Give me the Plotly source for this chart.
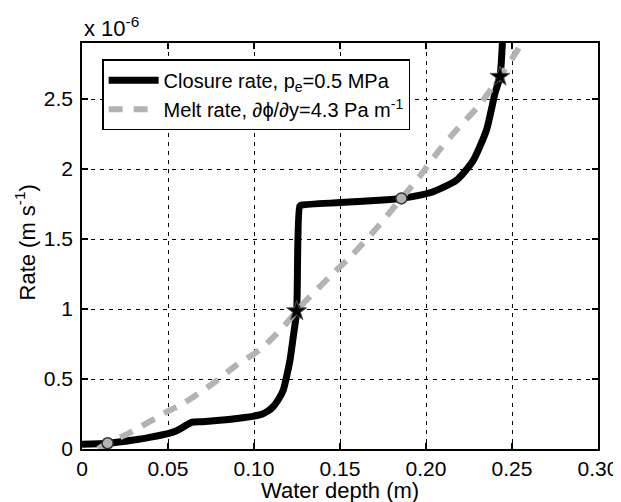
import plotly.graph_objects as go

# Data (rates in units of 1e-6 m/s)
closure_depth = [0.0, 0.0149, 0.03, 0.04, 0.05, 0.055, 0.06, 0.0637, 0.07, 0.08, 0.09, 0.1,
                 0.105, 0.108, 0.111, 0.114, 0.117, 0.119, 0.121, 0.1228, 0.1248,
                 0.1266, 0.128, 0.15, 0.1772, 0.1857, 0.2023, 0.2177, 0.2274,
                 0.2352, 0.2401, 0.243, 0.2448]
closure_rate = [0.034, 0.041, 0.064, 0.085, 0.11, 0.13, 0.165, 0.19, 0.195, 0.205, 0.218, 0.235,
                0.25, 0.27, 0.30, 0.35, 0.42, 0.52, 0.64, 0.80, 0.985,
                1.735, 1.743, 1.76, 1.78, 1.79, 1.83, 1.92, 2.06,
                2.28, 2.54, 2.66, 3.0]

melt_depth = [0.0093, 0.0149, 0.0279, 0.05, 0.0589, 0.0763, 0.0899, 0.1035, 0.118, 0.1248,
              0.1306, 0.1456, 0.1558, 0.1693, 0.1857, 0.1965, 0.2081, 0.2178, 0.2305,
              0.243, 0.2527, 0.2564]
melt_rate = [0.0, 0.041, 0.117, 0.27, 0.326, 0.47, 0.60, 0.71, 0.886, 0.985,
             1.064, 1.25, 1.37, 1.55, 1.79, 1.95, 2.14, 2.28, 2.45,
             2.66, 2.84, 2.92]

circle_depth = [0.0149, 0.1857]
circle_rate = [0.041, 1.79]
star_depth = [0.1248, 0.243]
star_rate = [0.985, 2.66]

x_ticks = [0, 0.05, 0.10, 0.15, 0.20, 0.25, 0.30]
x_ticklabels = ["0", "0.05", "0.10", "0.15", "0.20", "0.25", "0.30"]
y_ticks = [0, 0.5, 1, 1.5, 2, 2.5]
y_ticklabels = ["0", "0.5", "1", "1.5", "2", "2.5"]

FONT = "Liberation Sans, Arial, sans-serif"

fig = go.Figure()
fig.add_trace(go.Scatter(x=closure_depth, y=closure_rate, mode="lines",
                         line=dict(color="black", width=7, shape="spline", smoothing=0.6),
                         name="Closure rate, p<sub>e</sub>=0.5 MPa"))
fig.add_trace(go.Scatter(x=melt_depth, y=melt_rate, mode="lines",
                         line=dict(color="#b3b3b3", width=6, dash="14px,11px",
                                   shape="spline", smoothing=0.8),
                         name="Melt rate, ∂ϕ/∂y=4.3 Pa m<sup>-1</sup>"))
fig.add_trace(go.Scatter(x=circle_depth, y=circle_rate, mode="markers", showlegend=False,
                         marker=dict(symbol="circle", size=11, color="#b3b3b3",
                                     line=dict(color="#333333", width=1.5))))
fig.add_trace(go.Scatter(x=star_depth, y=star_rate, mode="markers", showlegend=False,
                         marker=dict(symbol="star", size=15, color="black",
                                     line=dict(color="#555555", width=1))))

axis_common = dict(showline=True, linecolor="black", linewidth=1.5, mirror="ticks",
                   ticks="inside", ticklen=6, tickwidth=1.5, tickcolor="black",
                   showgrid=True, gridcolor="black", gridwidth=1, griddash="4px,5px",
                   zeroline=False, automargin=False,
                   tickfont=dict(family=FONT, size=21, color="black"))

fig.update_xaxes(range=[0, 0.3], tickvals=x_ticks, ticktext=x_ticklabels, **axis_common)
fig.update_yaxes(range=[0, 2.9], tickvals=y_ticks, ticktext=y_ticklabels,
                 ticklabelstandoff=3, **axis_common)

title_font = dict(family=FONT, size=22, color="black")
fig.add_annotation(text="Water depth (m)", xref="paper", yref="paper", x=0.5, y=-0.1034,
                   xanchor="center", yanchor="middle", showarrow=False, font=title_font)
fig.add_annotation(text="Rate (m s<sup>-1</sup>)", xref="paper", yref="paper", x=-0.1105, y=0.5086,
                   xanchor="center", yanchor="middle", textangle=-90, showarrow=False,
                   font=title_font)
fig.add_annotation(text="x 10<sup>-6</sup>", xref="paper", yref="paper", x=0, y=1.0,
                   xanchor="left", yanchor="bottom", showarrow=False, yshift=0,
                   font=title_font)

# page body has an 8px default margin, so the figure is 8px smaller than the window
fig.update_layout(
    width=613, height=494,
    margin=dict(l=74, r=23, t=35, b=53),
    plot_bgcolor="white", paper_bgcolor="white",
    font=dict(family=FONT, color="black"),
    legend=dict(x=0.039, y=0.96, xanchor="left", yanchor="top",
                bgcolor="white", bordercolor="black", borderwidth=1.5,
                font=dict(family=FONT, size=20, color="black"),
                itemwidth=50),
)

fig.write_html("out.html")
